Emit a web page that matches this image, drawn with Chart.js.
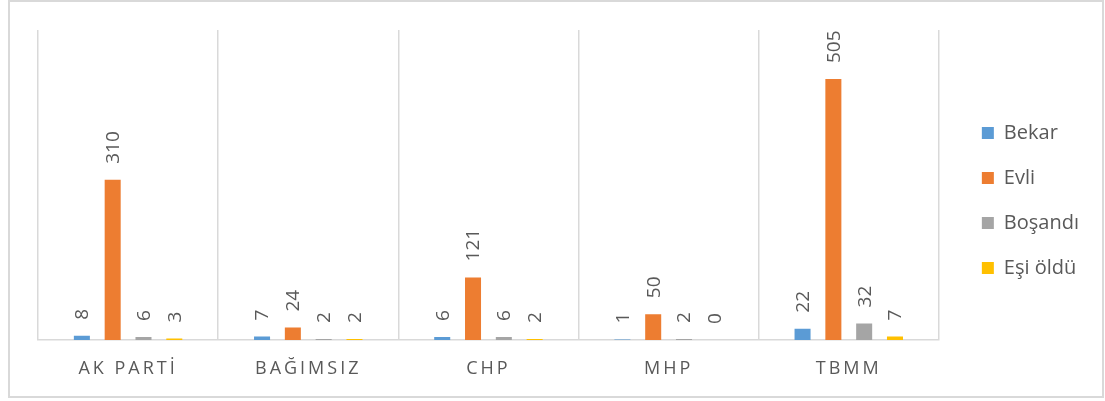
<!DOCTYPE html>
<html><head><meta charset="utf-8">
<script src="https://cdn.jsdelivr.net/npm/chart.js@4"></script>
<style>html,body{margin:0;padding:0;background:#fff;overflow:hidden}</style>
</head><body>
<canvas id="c" width="1105" height="401" style="display:block;width:1105px;height:401px"></canvas>
<script>
const categories = ["AK PARTİ", "BAĞIMSIZ", "CHP", "MHP", "TBMM"];
const seriesNames = ["Bekar", "Evli", "Boşandı", "Eşi öldü"];
const bekar   = [8, 7, 6, 1, 22];
const evli    = [310, 24, 121, 50, 505];
const bosandi = [6, 2, 6, 2, 32];
const esiOldu = [3, 2, 2, 0, 7];
const yMin = 0, yMax = 600;

const colors = ["#5B9BD5", "#ED7D31", "#A5A5A5", "#FFC000"];
const textColor = "#595959";
const gridColor = "#d9d9d9";
const FONT = "'Open Sans', 'Noto Sans', sans-serif";

const frame = {
  id: 'frame',
  beforeDraw(chart) {
    const ctx = chart.ctx;
    ctx.save();
    ctx.fillStyle = '#fff';
    ctx.fillRect(0, 0, chart.width, chart.height);
    ctx.strokeStyle = gridColor;
    ctx.lineWidth = 2;
    ctx.strokeRect(9, 1, 1094, 396);
    ctx.restore();
    const sc = chart.scales.x;
    if (sc && !sc._spaced) {
      const orig = sc.drawLabels;
      sc.drawLabels = function (area) {
        const c = this.ctx;
        c.save();
        c.letterSpacing = '3px';
        orig.call(this, area);
        c.restore();
      };
      sc._spaced = true;
    }
  }
};

const valueLabels = {
  id: 'valueLabels',
  afterDatasetsDraw(chart) {
    const ctx = chart.ctx;
    ctx.save();
    ctx.fillStyle = textColor;
    ctx.font = "19px " + FONT;
    ctx.textAlign = 'left';
    ctx.textBaseline = 'middle';
    chart.data.datasets.forEach((ds, di) => {
      const meta = chart.getDatasetMeta(di);
      meta.data.forEach((bar, i) => {
        ctx.save();
        ctx.translate(bar.x + 1, bar.y - 16);
        ctx.rotate(-Math.PI / 2);
        ctx.fillText(String(ds.data[i]), 0, 0);
        ctx.restore();
      });
    });
    ctx.restore();
  }
};

const seriesData = [bekar, evli, bosandi, esiOldu];

new Chart(document.getElementById('c'), {
  type: 'bar',
  data: {
    labels: categories,
    datasets: seriesNames.map((name, k) => ({
      label: name,
      data: seriesData[k],
      backgroundColor: colors[k],
      borderWidth: 0,
      xAxisID: 'x',
      yAxisID: 'y',
      categoryPercentage: 0.684,
      barPercentage: 0.52
    }))
  },
  options: {
    responsive: false,
    devicePixelRatio: 1,
    animation: false,
    layout: { padding: { left: 38, top: 0, right: 16, bottom: 0 } },
    plugins: {
      legend: {
        position: 'right',
        labels: {
          boxWidth: 12,
          boxHeight: 12,
          padding: 25,
          color: textColor,
          font: { family: FONT, size: 20 }
        }
      },
      tooltip: { enabled: false }
    },
    scales: {
      x: {
        type: 'category',
        position: 'bottom',
        grid: { color: gridColor, lineWidth: 1.5, drawTicks: false, offset: true },
        border: { color: gridColor, width: 1.5 },
        ticks: { color: textColor, font: { family: FONT, size: 18 }, padding: 18, maxRotation: 0 },
        afterFit(s) { s.height = 61; }
      },
      xTop: {
        type: 'linear',
        position: 'top',
        display: true,
        grid: { display: false, drawTicks: false },
        border: { display: false },
        ticks: { display: false },
        afterFit(s) { s.height = 30; }
      },
      y: {
        type: 'linear',
        min: yMin,
        max: yMax,
        display: false
      },
      yRight: {
        type: 'linear',
        position: 'right',
        display: true,
        grid: { display: false, drawTicks: false },
        border: { display: false },
        ticks: { display: false },
        afterFit(s) { s.width = 18; }
      }
    }
  },
  plugins: [frame, valueLabels]
});
</script>
</body></html>
